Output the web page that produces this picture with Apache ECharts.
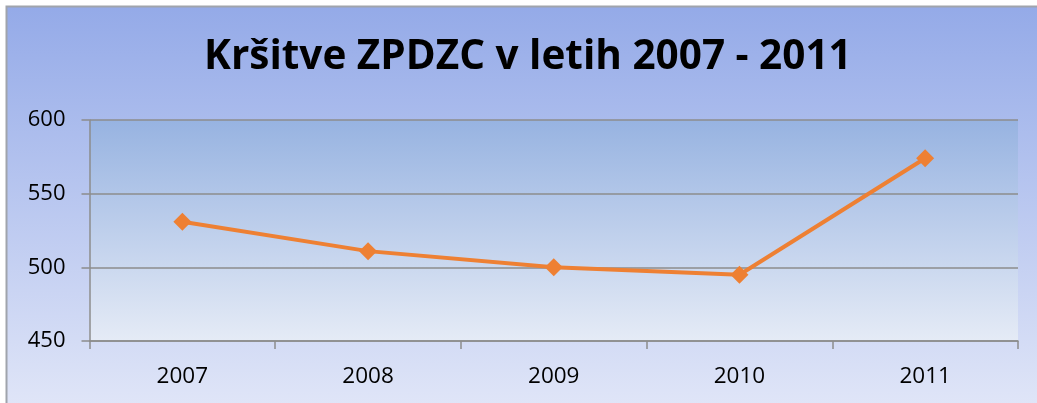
<!DOCTYPE html>
<html><head><meta charset="utf-8">
<script src="https://cdn.jsdelivr.net/npm/echarts@6/dist/echarts.min.js"></script>
<style>html,body{margin:0;padding:0;background:#fff}#c{width:1037px;height:403px}</style>
</head><body><div id="c"></div>
<script>
const title = 'Kršitve ZPDZC v letih 2007 - 2011';
const categories = ['2007', '2008', '2009', '2010', '2011'];
const values = [531, 511, 500, 495, 574];
const yTicks = [450, 500, 550, 600];

const chart = echarts.init(document.getElementById('c'));
chart.setOption({
  animation: false,
  backgroundColor: '#ffffff',
  graphic: [{
    type: 'rect', z: -10,
    shape: {x: 6.5, y: 6.5, width: 1040, height: 410},
    style: {
      fill: {type: 'linear', x: 0, y: 0, x2: 0, y2: 1, colorStops: [
        {offset: 0, color: '#94aae8'}, {offset: 1, color: '#e2e7f8'}]},
      stroke: '#a0a4ac', lineWidth: 2
    }
  }],
  title: {
    text: title, left: 199, top: 32,
    textStyle: {fontFamily: 'Open Sans', fontWeight: 'bold', fontSize: 40.5, color: '#000'}
  },
  grid: {
    left: 89.5, right: 19, top: 120, bottom: 62,
    show: true, borderWidth: 0,
    backgroundColor: {type: 'linear', x: 0, y: 0, x2: 0, y2: 1, colorStops: [
      {offset: 0, color: '#97b3e1'}, {offset: 1, color: '#e5ebf6'}]}
  },
  xAxis: {
    type: 'category', data: categories, boundaryGap: true,
    axisLine: {lineStyle: {color: '#8c8c8c', width: 1.5}},
    axisTick: {show: true, length: 8, lineStyle: {color: '#8c8c8c', width: 1.5}},
    axisLabel: {fontFamily: 'Open Sans', fontSize: 22.5, color: '#000', margin: 24}
  },
  yAxis: {
    type: 'value', min: 450, max: 600, interval: 50,
    axisLine: {show: true, lineStyle: {color: '#8c8c8c', width: 1.5}},
    axisTick: {show: true, length: 8, lineStyle: {color: '#8c8c8c', width: 1.5}},
    splitLine: {lineStyle: {color: '#8c8c8c', width: 1.5}},
    axisLabel: {fontFamily: 'Open Sans', fontSize: 22, color: '#000', margin: 24,
      formatter: v => yTicks.includes(v) ? String(v) : ''}
  },
  series: [{
    type: 'line', data: values,
    symbol: 'diamond', symbolSize: 18,
    lineStyle: {color: '#ee8033', width: 4},
    itemStyle: {color: '#ee8033'}
  }]
});
</script></body></html>
